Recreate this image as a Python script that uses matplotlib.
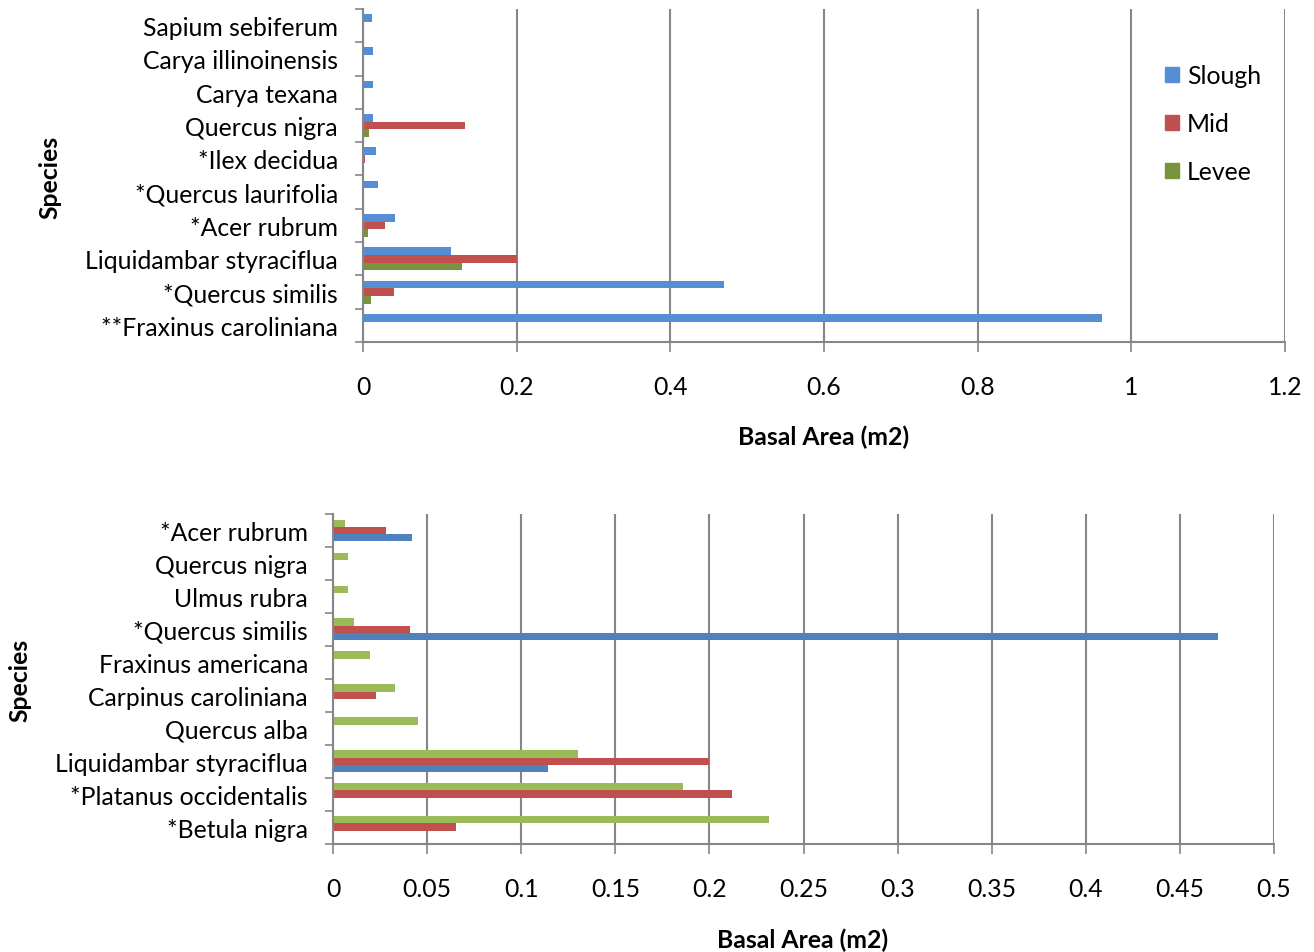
import numpy as np
import matplotlib.pyplot as plt
from matplotlib.patches import Patch
from matplotlib.ticker import FixedLocator

plt.rcParams['font.family'] = ['Lato', 'DejaVu Sans']

# Top chart: all sites (listed top to bottom as drawn)
top_species = ['Sapium sebiferum', 'Carya illinoinensis', 'Carya texana',
               'Quercus nigra', '*Ilex decidua', '*Quercus laurifolia',
               '*Acer rubrum', 'Liquidambar styraciflua', '*Quercus similis',
               '**Fraxinus caroliniana']
top_slough = [0.011, 0.013, 0.013, 0.013, 0.017, 0.019, 0.041, 0.114, 0.470, 0.962]
top_mid = [0, 0, 0, 0.133, 0.003, 0, 0.028, 0.200, 0.040, 0]
top_levee = [0, 0, 0, 0.0074, 0, 0, 0.006, 0.129, 0.010, 0]

# Bottom chart (listed top to bottom as drawn)
bot_species = ['*Acer rubrum', 'Quercus nigra', 'Ulmus rubra', '*Quercus similis',
               'Fraxinus americana', 'Carpinus caroliniana', 'Quercus alba',
               'Liquidambar styraciflua', '*Platanus occidentalis', '*Betula nigra']
bot_slough = [0.042, 0, 0, 0.470, 0, 0, 0, 0.1145, 0, 0]
bot_mid = [0.0283, 0, 0, 0.0408, 0, 0.0228, 0, 0.200, 0.212, 0.0652]
bot_levee = [0.0066, 0.0082, 0.0082, 0.011, 0.0198, 0.0327, 0.045, 0.130, 0.1858, 0.2317]

FS = 17.8
GRID = '#868686'

fig = plt.figure(figsize=(13.14, 9.53), dpi=100)
ax1 = fig.add_axes([0.2763, 0.6401, 0.7017, 0.3494])
ax2 = fig.add_axes([0.2534, 0.1138, 0.7162, 0.3458])


def style_axis(ax, labels, xmax, xstep):
    n = len(labels)
    ax.set_ylim(-0.5, n - 0.5)
    ax.set_xlim(0, xmax)
    ax.set_yticks(np.arange(n))
    ax.set_yticklabels(labels[::-1], fontsize=FS)
    ax.yaxis.set_minor_locator(FixedLocator(np.arange(n + 1) - 0.5))
    ax.tick_params(axis='y', which='major', length=0, pad=18)
    ax.tick_params(axis='y', which='minor', length=6, width=1.2, color=GRID)
    xt = np.round(np.arange(0, xmax + xstep / 2, xstep), 4)
    ax.set_xticks(xt)
    ax.set_xticklabels([f'{v:g}' for v in xt], fontsize=FS)
    ax.tick_params(axis='x', length=7, width=1.2, color=GRID, pad=17)
    ax.grid(axis='x', color=GRID, linewidth=1.5)
    ax.set_axisbelow(True)
    for s in ['top', 'right']:
        ax.spines[s].set_visible(False)
    for s in ['left', 'bottom']:
        ax.spines[s].set_color(GRID)
        ax.spines[s].set_linewidth(1.5)


h = 0.23
y1 = np.arange(len(top_species))[::-1]
ax1.barh(y1 + h, top_slough, height=h, color='#558ED5', linewidth=0, label='Slough')
ax1.barh(y1, top_mid, height=h, color='#C0504D', linewidth=0, label='Mid')
ax1.barh(y1 - h, top_levee, height=h, color='#77933C', linewidth=0, label='Levee')
style_axis(ax1, top_species, 1.2, 0.2)

h2 = 0.22
y2 = np.arange(len(bot_species))[::-1]
ax2.barh(y2 - h2, bot_slough, height=h2, color='#4F81BD', linewidth=0)
ax2.barh(y2, bot_mid, height=h2, color='#C0504D', linewidth=0)
ax2.barh(y2 + h2, bot_levee, height=h2, color='#9BBB59', linewidth=0)
style_axis(ax2, bot_species, 0.5, 0.05)

# axis titles
fig.text(824 / 1314, 1 - 437 / 953, 'Basal Area (m2)', ha='center', va='center',
         fontsize=FS, fontweight='bold')
fig.text(803 / 1314, 1 - 940 / 953, 'Basal Area (m2)', ha='center', va='center',
         fontsize=FS, fontweight='bold')
fig.text(50 / 1314, 1 - 177 / 953, 'Species', ha='center', va='center',
         rotation=90, fontsize=FS, fontweight='bold')
fig.text(20 / 1314, 1 - 680 / 953, 'Species', ha='center', va='center',
         rotation=90, fontsize=FS, fontweight='bold')

handles = [Patch(color='#558ED5', label='Slough'),
           Patch(color='#C0504D', label='Mid'),
           Patch(color='#77933C', label='Levee')]
fig.legend(handles=handles, loc='upper left', bbox_to_anchor=(1165 / 1314, 1 - 65 / 953),
           frameon=False, fontsize=FS, handlelength=0.58, handleheight=0.58,
           handletextpad=0.3, labelspacing=1.02, borderpad=0, borderaxespad=0)

plt.savefig('out.png', dpi=100)
plt.close(fig)
